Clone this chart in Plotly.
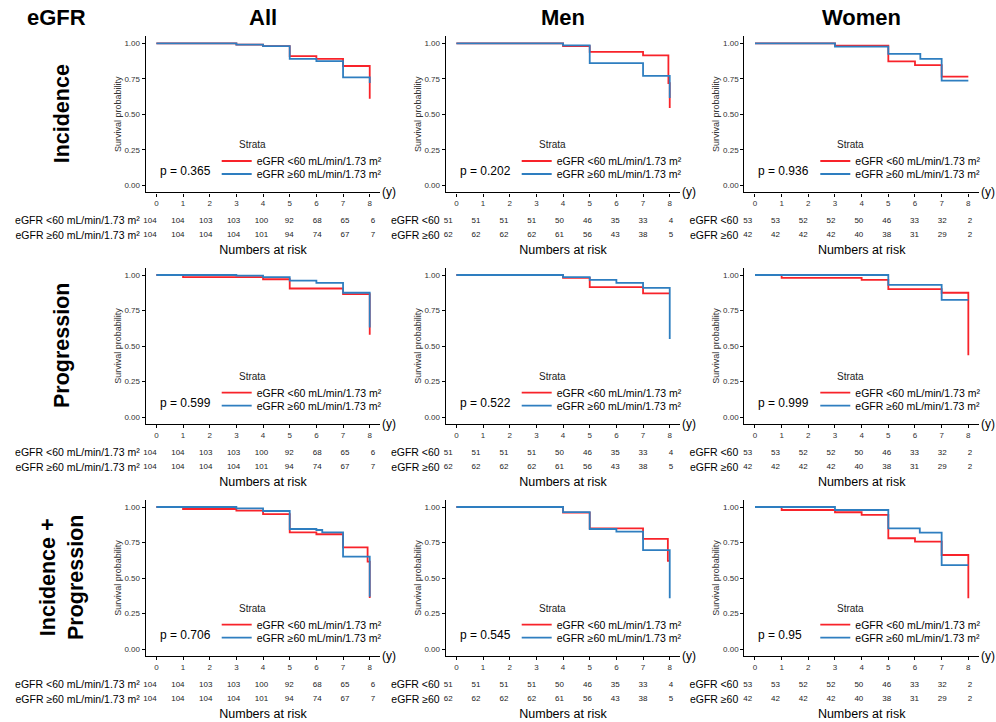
import plotly.graph_objects as go

FONT = "Liberation Sans, Arial, sans-serif"
RED = "#F8232A"
BLUE = "#2E7EC0"

W, H = 996, 722

col_titles = ["All", "Men", "Women"]
row_titles = ["Incidence", "Progression", "Incidence +<br>Progression"]
time_ticks = [0, 1, 2, 3, 4, 5, 6, 7, 8]
surv_ticks = [0, 0.25, 0.5, 0.75, 1.0]
surv_ticktext = ["0.00", "0.25", "0.50", "0.75", "1.00"]

legend_labels = ["eGFR <60 mL/min/1.73 m²", "eGFR ≥60 mL/min/1.73 m²"]
risk_labels_all = ["eGFR <60 mL/min/1.73 m²", "eGFR ≥60 mL/min/1.73 m²"]
risk_labels_sex = ["eGFR <60", "eGFR ≥60"]

# ---- numbers at risk (same for every outcome row) ----
risk_all_lt60 = [104, 104, 103, 103, 100, 92, 68, 65, 6]
risk_all_ge60 = [104, 104, 104, 104, 101, 94, 74, 67, 7]
risk_men_lt60 = [51, 51, 51, 51, 50, 46, 35, 33, 4]
risk_men_ge60 = [62, 62, 62, 62, 61, 56, 43, 38, 5]
risk_wom_lt60 = [53, 53, 52, 52, 50, 46, 33, 32, 2]
risk_wom_ge60 = [42, 42, 42, 42, 40, 38, 31, 29, 2]

# ---- p-values ----
pvals_incidence = ["0.365", "0.202", "0.936"]
pvals_progression = ["0.599", "0.522", "0.999"]
pvals_incprog = ["0.706", "0.545", "0.95"]

# ---- Kaplan-Meier curves (time in years, survival probability) ----
# Incidence
inc_all_lt60_t = [0, 3, 4, 5, 6, 7, 8]
inc_all_lt60_s = [1, 0.99, 0.98, 0.91, 0.89, 0.84, 0.61]
inc_all_ge60_t = [0, 3, 4, 5, 6, 7, 8]
inc_all_ge60_s = [1, 0.99, 0.98, 0.89, 0.875, 0.76, 0.72]
inc_men_lt60_t = [0, 4, 5, 7, 7.95, 8]
inc_men_lt60_s = [1, 0.98, 0.94, 0.915, 0.72, 0.545]
inc_men_ge60_t = [0, 4, 5, 7, 8]
inc_men_ge60_s = [1, 0.985, 0.86, 0.77, 0.615]
inc_wom_lt60_t = [0, 3, 5, 6, 7, 8]
inc_wom_lt60_s = [1, 0.983, 0.873, 0.847, 0.765, 0.765]
inc_wom_ge60_t = [0, 3, 5, 6.2, 7, 8]
inc_wom_ge60_s = [1, 0.976, 0.925, 0.89, 0.737, 0.737]
# Progression
prg_all_lt60_t = [0, 1, 4, 5, 7, 8]
prg_all_lt60_s = [1, 0.985, 0.97, 0.905, 0.865, 0.58]
prg_all_ge60_t = [0, 3, 4, 5, 6, 7, 8]
prg_all_ge60_s = [1, 0.995, 0.985, 0.96, 0.945, 0.875, 0.63]
prg_men_lt60_t = [0, 4, 5, 7, 8]
prg_men_lt60_s = [1, 0.98, 0.915, 0.87, 0.87]
prg_men_ge60_t = [0, 4, 5, 6, 7, 8]
prg_men_ge60_s = [1, 0.985, 0.965, 0.945, 0.91, 0.55]
prg_wom_lt60_t = [0, 1, 4, 5, 7, 8]
prg_wom_lt60_s = [1, 0.98, 0.965, 0.9, 0.875, 0.435]
prg_wom_ge60_t = [0, 5, 7, 8]
prg_wom_ge60_s = [1, 0.93, 0.825, 0.825]
# Incidence + Progression
ip_all_lt60_t = [0, 1, 3, 4, 5, 6, 7, 7.92, 8]
ip_all_lt60_s = [1, 0.986, 0.975, 0.95, 0.822, 0.808, 0.716, 0.615, 0.36]
ip_all_ge60_t = [0, 3, 4, 5, 6, 6.22, 7, 8]
ip_all_ge60_s = [1, 0.991, 0.972, 0.845, 0.838, 0.822, 0.65, 0.368]
ip_men_lt60_t = [0, 4, 5, 7, 7.93, 8]
ip_men_lt60_s = [1, 0.96, 0.85, 0.775, 0.62, 0.62]
ip_men_ge60_t = [0, 4, 5, 6, 7, 8]
ip_men_ge60_s = [1, 0.964, 0.845, 0.826, 0.697, 0.357]
ip_wom_lt60_t = [0, 1, 3, 4, 5, 6, 7, 8]
ip_wom_lt60_s = [1, 0.979, 0.963, 0.944, 0.78, 0.756, 0.662, 0.357]
ip_wom_ge60_t = [0, 3, 5, 6.18, 7, 8]
ip_wom_ge60_s = [1, 0.979, 0.85, 0.819, 0.59, 0.59]

curves = [
    [(inc_all_lt60_t, inc_all_lt60_s, inc_all_ge60_t, inc_all_ge60_s),
     (inc_men_lt60_t, inc_men_lt60_s, inc_men_ge60_t, inc_men_ge60_s),
     (inc_wom_lt60_t, inc_wom_lt60_s, inc_wom_ge60_t, inc_wom_ge60_s)],
    [(prg_all_lt60_t, prg_all_lt60_s, prg_all_ge60_t, prg_all_ge60_s),
     (prg_men_lt60_t, prg_men_lt60_s, prg_men_ge60_t, prg_men_ge60_s),
     (prg_wom_lt60_t, prg_wom_lt60_s, prg_wom_ge60_t, prg_wom_ge60_s)],
    [(ip_all_lt60_t, ip_all_lt60_s, ip_all_ge60_t, ip_all_ge60_s),
     (ip_men_lt60_t, ip_men_lt60_s, ip_men_ge60_t, ip_men_ge60_s),
     (ip_wom_lt60_t, ip_wom_lt60_s, ip_wom_ge60_t, ip_wom_ge60_s)],
]
risks = [(risk_all_lt60, risk_all_ge60), (risk_men_lt60, risk_men_ge60), (risk_wom_lt60, risk_wom_ge60)]
risk_labels = [risk_labels_all, risk_labels_sex, risk_labels_sex]
pvals = [pvals_incidence, pvals_progression, pvals_incprog]

# ---- layout geometry (pixels) ----
col_px = [(145.7, 380.4), (445.7, 680.4), (744.3, 979.0)]
row_px = [(36.2, 192.4), (267.9, 424.1), (499.9, 656.1)]
risk_px = [(213.5, 242.5), (445.5, 474.5), (677.5, 706.5)]
risk_xrange = [[-0.155, 8.27], [-0.09, 8.34], [-0.12, 8.32]]


def xd(a, b):
    return [a / W, b / W]


def yd(top, bot):
    return [1 - bot / H, 1 - top / H]


def sfx(n):
    return "" if n == 1 else str(n)


fig = go.Figure()
layout = dict(
    width=W, height=H, margin=dict(l=0, r=0, t=0, b=0),
    paper_bgcolor="white", plot_bgcolor="white",
    font=dict(family=FONT, color="black"),
)
annotations = []

for r in range(3):
    for c in range(3):
        k = r * 3 + c + 1
        rk = k + 9
        xa, ya = "x" + sfx(k), "y" + sfx(k)
        xr, yr = "x" + sfx(rk), "y" + sfx(rk)
        leg_r = "legend" + sfx(2 * k - 1)
        leg_b = "legend" + sfx(2 * k)
        t1, s1, t2, s2 = curves[r][c]
        fig.add_trace(go.Scatter(x=t1, y=s1, mode="lines", line=dict(color=RED, width=1.8, shape="hv"),
                                 name=legend_labels[0], xaxis=xa, yaxis=ya, legend=leg_r, hoverinfo="skip"))
        fig.add_trace(go.Scatter(x=t2, y=s2, mode="lines", line=dict(color=BLUE, width=1.8, shape="hv"),
                                 name=legend_labels[1], xaxis=xa, yaxis=ya, legend=leg_b, hoverinfo="skip"))
        lt, ge = risks[c]
        fig.add_trace(go.Scatter(x=time_ticks + time_ticks, y=[2] * 9 + [1] * 9,
                                 text=[str(v) for v in lt] + [str(v) for v in ge],
                                 mode="text", textfont=dict(size=8, color="#222", family=FONT),
                                 cliponaxis=False,
                                 xaxis=xr, yaxis=yr, showlegend=False, hoverinfo="skip"))

        cl, cr = col_px[c]
        rt, rb = row_px[r]
        kt, kb = risk_px[r]
        layout["xaxis" + sfx(k)] = dict(
            domain=xd(cl, cr), anchor=ya, range=[-0.4, 8.4], tickvals=time_ticks,
            ticks="outside", ticklen=3, tickcolor="black", showline=True, linecolor="black", linewidth=1.2,
            showgrid=False, zeroline=False, tickfont=dict(size=8, color="#333"),
        )
        layout["yaxis" + sfx(k)] = dict(
            domain=yd(rt, rb), anchor=xa, range=[-0.05, 1.05], tickvals=surv_ticks, ticktext=surv_ticktext,
            ticks="outside", ticklen=3, tickcolor="black", showline=True, linecolor="black", linewidth=1.2,
            showgrid=False, zeroline=False, tickfont=dict(size=8, color="#333"),
            title=dict(text="Survival probability", font=dict(size=9, color="#333"), standoff=1),
        )
        layout["xaxis" + sfx(rk)] = dict(
            domain=xd(cl, cr), anchor=yr, range=risk_xrange[c], showticklabels=False, ticks="",
            showline=False, showgrid=False, zeroline=False,
            title=dict(text="Numbers at risk", font=dict(size=12.5), standoff=2),
        )
        layout["yaxis" + sfx(rk)] = dict(
            domain=yd(kt, kb), anchor=xr, range=[0.5, 2.5], tickvals=[2, 1], ticktext=risk_labels[c],
            ticks="", showline=False, showgrid=False, zeroline=False, ticklabelstandoff=5,
            tickfont=dict(size=10.5, color="black"),
        )
        for leg, dy in ((leg_r, 124.8), (leg_b, 137.8)):
            layout[leg] = dict(
                x=(cl + 71) / W, xanchor="left", y=1 - (rt + dy) / H, yanchor="middle",
                bgcolor="rgba(0,0,0,0)", font=dict(size=10.5, family=FONT),
                itemwidth=30, tracegroupgap=0,
            )
        annotations.append(dict(xref=xa, yref=ya, x=0.05, y=0.1, xanchor="left", yanchor="middle",
                                text=f"p = {pvals[r][c]}", showarrow=False, font=dict(size=12)))
        annotations.append(dict(xref=f"{xa} domain", yref=f"{ya} domain", x=1, y=0, xanchor="left",
                                yanchor="middle", xshift=0, text="(y)", showarrow=False, font=dict(size=12)))
        annotations.append(dict(xref="paper", yref="paper", x=(cl + 91) / W, y=1 - (rt + 108.8) / H,
                                xanchor="left", yanchor="middle", text="Strata", showarrow=False,
                                font=dict(size=10, color="#222")))

# column headers
annotations.append(dict(xref="paper", yref="paper", x=56 / W, y=1 - 18 / H, text="<b>eGFR</b>",
                        showarrow=False, font=dict(size=22), xanchor="center", yanchor="middle"))
for c in range(3):
    cl, cr = col_px[c]
    annotations.append(dict(xref="paper", yref="paper", x=(cl + cr) / 2 / W, y=1 - 18 / H,
                            text=f"<b>{col_titles[c]}</b>", showarrow=False, font=dict(size=22),
                            xanchor="center", yanchor="middle"))
# row headers
for r in range(3):
    rt, rb = row_px[r]
    annotations.append(dict(xref="paper", yref="paper", x=62 / W, y=1 - ((rt + rb) / 2) / H,
                            text=f"<b>{row_titles[r]}</b>", showarrow=False, font=dict(size=21.5),
                            textangle=-90, xanchor="center", yanchor="middle"))

layout["annotations"] = annotations
fig.update_layout(**layout)
fig.write_html("out.html")
